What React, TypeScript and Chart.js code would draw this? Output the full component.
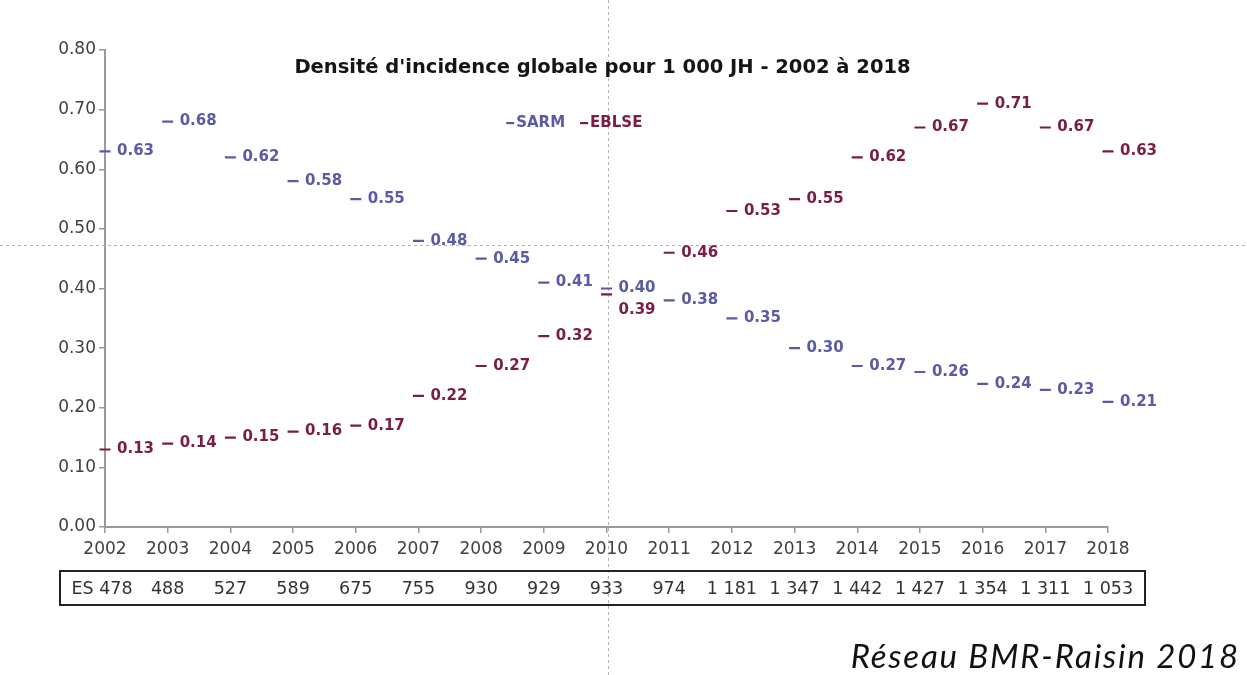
import React, { useEffect, useRef } from "react";
import { Chart, registerables } from "chart.js";

Chart.register(...registerables);

const years = ["2002", "2003", "2004", "2005", "2006", "2007", "2008", "2009", "2010", "2011", "2012", "2013", "2014", "2015", "2016", "2017", "2018"];
const sarm = [0.63, 0.68, 0.62, 0.58, 0.55, 0.48, 0.45, 0.41, 0.40, 0.38, 0.35, 0.30, 0.27, 0.26, 0.24, 0.23, 0.21];
const eblse = [0.13, 0.14, 0.15, 0.16, 0.17, 0.22, 0.27, 0.32, 0.39, 0.46, 0.53, 0.55, 0.62, 0.67, 0.71, 0.67, 0.63];
const esCounts = [478, 488, 527, 589, 675, 755, 930, 929, 933, 974, 1181, 1347, 1442, 1427, 1354, 1311, 1053];
const seriesNames = ["SARM", "EBLSE"];

const TITLE = "Densité d'incidence globale pour 1 000 JH - 2002 à 2018";
const SOURCE = "Réseau BMR-Raisin 2018";
const TABLE_PREFIX = "ES ";
const CROSS_X_INDEX = 8;
const CROSS_Y_VALUE = 0.473;

const SARM_COLOR = "#5b5aa4";
const EBLSE_COLOR = "#7a1d46";
const AXIS_COLOR = "#9a9a9a";
const TEXT_COLOR = "#404040";
const FONT = "'DejaVu Sans', Roboto, sans-serif";

const fmtThousands = (n: number) =>
  n >= 1000 ? `${Math.floor(n / 1000)} ${String(n % 1000).padStart(3, "0")}` : String(n);

const overlay = {
  id: "overlay",
  beforeDraw(chart: any) {
    const { ctx, width, height } = chart;
    ctx.save();
    ctx.fillStyle = "#ffffff";
    ctx.fillRect(0, 0, width, height);
    ctx.restore();
  },
  beforeDatasetsDraw(chart: any) {
    const { ctx, width, height, scales } = chart;
    const cx = Math.round(scales.x.getPixelForValue(CROSS_X_INDEX)) + 1.5;
    const cy = Math.round(scales.y.getPixelForValue(CROSS_Y_VALUE)) + 0.5;
    ctx.save();
    ctx.strokeStyle = "#b4b4b4";
    ctx.lineWidth = 1;
    ctx.setLineDash([3, 3]);
    ctx.beginPath();
    ctx.moveTo(0, cy);
    ctx.lineTo(width, cy);
    ctx.moveTo(cx, 0);
    ctx.lineTo(cx, height);
    ctx.stroke();
    ctx.restore();
  },
  afterDraw(chart: any) {
    const { ctx, chartArea, scales } = chart;
    const xs = scales.x;
    ctx.save();

    // Title
    ctx.fillStyle = "#151515";
    ctx.font = `bold 19.5px ${FONT}`;
    ctx.textAlign = "center";
    ctx.textBaseline = "middle";
    ctx.fillText(TITLE, (chartArea.left + chartArea.right) / 2 - 4, chartArea.top + 18);

    // Legend
    ctx.font = `bold 15px ${FONT}`;
    ctx.textAlign = "left";
    const colors = [SARM_COLOR, EBLSE_COLOR];
    let lx = xs.getPixelForValue(6.4);
    const ly = chartArea.top + 73;
    seriesNames.forEach((name, i) => {
      ctx.fillStyle = colors[i];
      ctx.fillRect(lx, ly - 1, 8, 2.2);
      ctx.fillText(name, lx + 10, ly);
      lx += 10 + ctx.measureText(name).width + 15;
    });

    // Point labels
    const m0 = chart.getDatasetMeta(0);
    const m1 = chart.getDatasetMeta(1);
    ctx.font = `bold 15px ${FONT}`;
    ctx.textAlign = "left";
    ctx.textBaseline = "middle";
    for (let i = 0; i < years.length; i++) {
      const p0 = m0.data[i];
      const p1 = m1.data[i];
      let y0 = p0.y;
      let y1 = p1.y;
      if (Math.abs(y0 - y1) < 16) {
        if (y0 <= y1) y1 = y0 + 22;
        else y0 = y1 + 22;
      }
      ctx.fillStyle = SARM_COLOR;
      ctx.fillText(sarm[i].toFixed(2), p0.x + 12, y0);
      ctx.fillStyle = EBLSE_COLOR;
      ctx.fillText(eblse[i].toFixed(2), p1.x + 12, y1);
    }

    // Table
    const tTop = chartArea.bottom + 44;
    const tH = 34;
    ctx.strokeStyle = "#222222";
    ctx.lineWidth = 2;
    ctx.strokeRect(60, tTop, 1085, tH);
    ctx.fillStyle = "#333333";
    ctx.font = `17.5px ${FONT}`;
    ctx.textAlign = "center";
    ctx.textBaseline = "middle";
    for (let i = 0; i < esCounts.length; i++) {
      const txt = (i === 0 ? TABLE_PREFIX : "") + fmtThousands(esCounts[i]);
      const cxp = xs.getPixelForValue(i) + (i === 0 ? -3 : 0);
      ctx.fillText(txt, cxp, tTop + tH / 2 + 1);
    }

    // Source
    ctx.fillStyle = "#111111";
    ctx.font = `italic 33px Lato, 'Noto Sans', sans-serif`;
    (ctx as any).letterSpacing = "1.8px";
    ctx.textAlign = "right";
    ctx.textBaseline = "alphabetic";
    ctx.fillText(SOURCE, 1240, 668);
    (ctx as any).letterSpacing = "0px";

    ctx.restore();
  },
};

export default function App() {
  const canvasRef = useRef<HTMLCanvasElement | null>(null);

  useEffect(() => {
    if (!canvasRef.current) return;
    const chart = new Chart(canvasRef.current, {
      type: "line",
      data: {
        labels: years,
        datasets: [
          {
            label: seriesNames[0],
            data: sarm,
            showLine: false,
            pointStyle: "line",
            pointRadius: 5.5,
            pointHoverRadius: 5.5,
            pointBorderWidth: 2.2,
            borderColor: SARM_COLOR,
            backgroundColor: SARM_COLOR,
          },
          {
            label: seriesNames[1],
            data: eblse,
            showLine: false,
            pointStyle: "line",
            pointRadius: 5.5,
            pointHoverRadius: 5.5,
            pointBorderWidth: 2.2,
            borderColor: EBLSE_COLOR,
            backgroundColor: EBLSE_COLOR,
          },
        ],
      },
      options: {
        animation: false,
        responsive: false,
        layout: { padding: { left: 0, top: 50, right: 139, bottom: 0 } },
        plugins: {
          legend: { display: false },
          title: { display: false },
          tooltip: { enabled: false },
        },
        scales: {
          x: {
            type: "category",
            offset: false,
            grid: {
              display: true,
              drawOnChartArea: false,
              drawTicks: true,
              tickLength: 6,
              color: AXIS_COLOR,
              lineWidth: 1.5,
            },
            border: { display: true, color: AXIS_COLOR, width: 2 },
            ticks: {
              color: TEXT_COLOR,
              font: { family: FONT, size: 17 },
              padding: 6,
              maxRotation: 0,
              autoSkip: false,
            },
            afterFit(scale: any) {
              scale.height = 148;
            },
          },
          y: {
            min: 0,
            max: 0.8,
            grid: {
              display: true,
              drawOnChartArea: false,
              drawTicks: true,
              tickLength: 6,
              color: AXIS_COLOR,
              lineWidth: 1.5,
            },
            border: { display: true, color: AXIS_COLOR, width: 2 },
            ticks: {
              stepSize: 0.1,
              color: TEXT_COLOR,
              font: { family: FONT, size: 17 },
              padding: 3,
              callback: (v: any) => Number(v).toFixed(2),
            },
            afterFit(scale: any) {
              scale.width = 105;
            },
          },
        },
      },
      plugins: [overlay],
    } as any);
    return () => chart.destroy();
  }, []);

  return (
    <div style={{ position: "fixed", left: 0, top: 0, width: 1247, height: 675, background: "#fff" }}>
      <canvas ref={canvasRef} width={1247} height={675} style={{ display: "block" }} />
    </div>
  );
}
